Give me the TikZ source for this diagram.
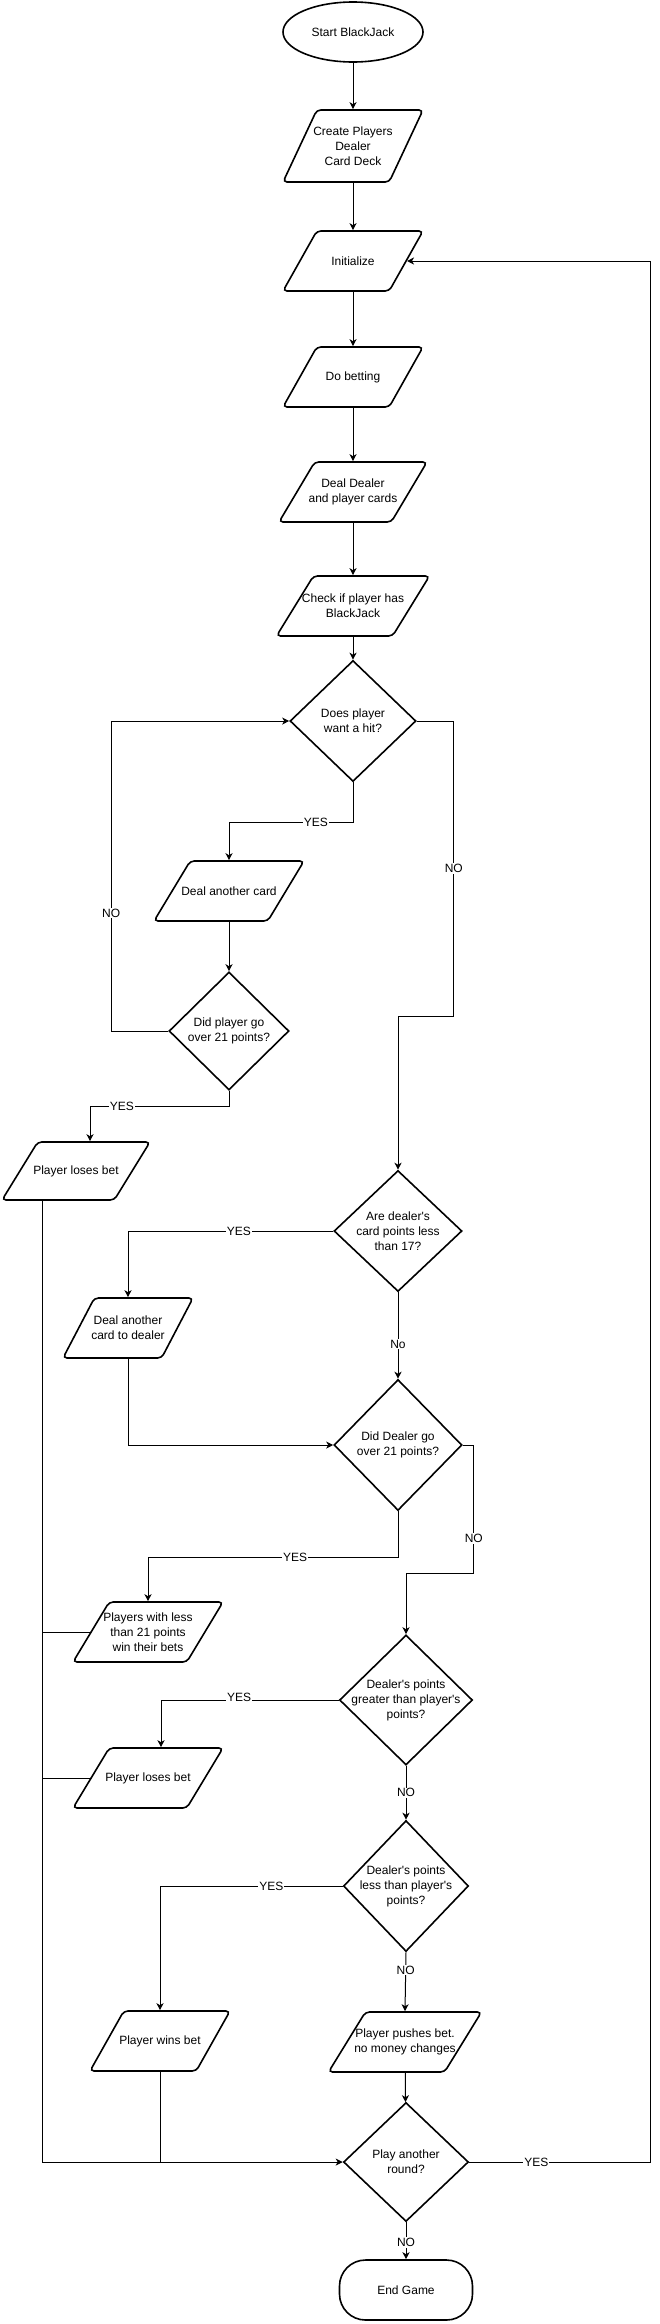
\documentclass[tikz,border=0pt]{standalone}
\usepackage{fontspec}
\setmainfont{Liberation Sans}
\usetikzlibrary{shapes.geometric,arrows.meta,calc}
\tikzset{
  shp/.style={draw, line width=1.6pt, inner sep=2pt},
  txt/.style={align=center, inner sep=0pt, font=\fontsize{12}{15}\selectfont},
  says/.style={label={[txt]center:#1}},
  para/.style={shp, trapezium, trapezium left angle=65, trapezium right angle=115,
    trapezium stretches=true, rounded corners=4pt, minimum height=60pt},
  dec/.style={shp, diamond},
  term/.style={shp, ellipse},
  line/.style={line width=1pt},
  arr/.style={line, -{Stealth[length=7pt,width=7pt,inset=2pt]}},
  lbl/.style={fill=white, inner sep=1pt, font=\fontsize{12}{15}\selectfont},
}
\begin{document}
\begin{tikzpicture}[x=1pt,y=-1pt]
				\useasboundingbox (0,0) rectangle (660,2324);
				\node[term, minimum width=140pt, minimum height=60pt, says={Start BlackJack}] (start) at (353,32) {};
				\node[para, minimum width=140pt, minimum height=72pt, says={Create Players\\Dealer\\Card Deck}] (create) at (353,146) {};
				\node[para, minimum width=140pt, says={Initialize}] (init) at (353,261) {};
				\node[para, minimum width=140pt, says={Do betting}] (bet) at (353,377) {};
				\node[para, minimum width=148pt, says={Deal Dealer\\and player cards}] (deal) at (353,492) {};
				\node[para, minimum width=153pt, says={Check if player has\\BlackJack}] (check) at (353,606) {};
				\node[dec, minimum width=126pt, minimum height=121pt, says={Does player\\want a hit?}] (hit) at (353,721) {};
				\node[para, minimum width=150pt, says={Deal another card}] (another) at (229,891) {};
				\node[dec, minimum width=120pt, minimum height=118pt, says={Did player go\\over 21 points?}] (pover) at (229,1031) {};
				\node[para, minimum width=148pt, minimum height=58pt, says={Player loses bet}] (lose1) at (76,1171) {};
				\node[dec, minimum width=128pt, minimum height=121pt, says={Are dealer\textquotesingle s\\card points less\\than 17?}] (less17) at (398,1231) {};
				\node[para, minimum width=130pt, says={Deal another\\card to dealer}] (dcard) at (128,1328) {};
				\node[dec, minimum width=128pt, minimum height=131pt, says={Did Dealer go\\over 21 points?}] (dover) at (398,1445) {};
				\node[para, minimum width=150pt, says={Players with less\\than 21 points\\win their bets}] (win21) at (148,1632) {};
				\node[dec, minimum width=133pt, minimum height=130pt, says={Dealer\textquotesingle s points\\greater than player\textquotesingle s\\points?}] (greater) at (406,1700) {};
				\node[para, minimum width=150pt, says={Player loses bet}] (lose2) at (148,1778) {};
				\node[dec, minimum width=125pt, minimum height=131pt, says={Dealer\textquotesingle s points\\less than player\textquotesingle s\\points?}] (lesser) at (406,1886) {};
				\node[para, minimum width=140pt, says={Player wins bet}] (winbet) at (160,2041) {};
				\node[para, minimum width=153pt, says={Player pushes bet.\\no money changes}] (push) at (405,2042) {};
				\node[dec, minimum width=125pt, minimum height=119pt, says={Play another\\round?}] (again) at (406,2162) {};
				\node[shp, rectangle, rounded corners=26pt, minimum width=133pt, minimum height=60pt, says={End Game}] (endg) at (406,2290) {};
				\coordinate (rail) at ($(lose1.south)+(-34,0)$);
				\draw[arr] (start) -- (create);
				\draw[arr] (create) -- (init);
				\draw[arr] (init) -- (bet);
				\draw[arr] (bet) -- (deal);
				\draw[arr] (deal) -- (check);
				\draw[arr] (check) -- (hit);
				\draw[arr] (hit.south) -- ++(0,40) -| node[lbl, pos=0.15] (yes1) {YES} (another.north);
				\draw[arr] (another) -- (pover);
				\draw[arr] (pover.west) -- ++(-57,0) |- node[lbl, pos=0.19] (no1) {NO} (hit.west);
				\draw[arr] (hit.east) -- ++(37,0) -- node[lbl] (no2) {NO} ++(0,295) -| (less17.north);
				\draw[arr] (pover.south) -- ++(0,16) -| node[lbl, pos=0.385] (yes2) {YES} ($(lose1.north)+(14,0)$);
				\draw[arr] (less17.west) -| node[lbl, pos=0.23] (yes3) {YES} (dcard.north);
				\draw[arr] (less17.south) -- node[lbl, pos=0.6] (no3) {No} (dover.north);
				\draw[arr] (dcard.south) |- (dover.west);
				\draw[arr] (dover.south) -- ++(0,46) -| node[lbl, pos=0.206] (yes4) {YES} (win21.north);
				\draw[arr] (dover.east) -- ++(11,0) -- node[lbl, pos=0.73] (no4) {NO} ++(0,128) -| (greater.north);
				\draw[arr] (greater.west) -| node[lbl, pos=0.28, yshift=3pt] (yes5) {YES} ($(lose2.north)+(13,0)$);
				\draw[arr] (greater.south) -- node[lbl] (no5) {NO} (lesser.north);
				\draw[arr] (lesser.west) -| node[lbl, pos=0.195] (yes6) {YES} (winbet.north);
				\draw[arr] (lesser.south) -- node[lbl, pos=0.3] (no6) {NO} (push.north);
				\draw[arr] (push) -- (again);
				\draw[arr] (again.south) -- node[lbl, pos=0.55] (no7) {NO} (endg.north);
				\draw[arr] (again.east) -- node[lbl, pos=0.37] (yes7) {YES} ++(181,0) |- (init.east);
				\draw[arr] (rail) |- (again.west);
				\draw[line] (win21.west) -- (win21.west -| rail);
				\draw[line] (lose2.west) -- (lose2.west -| rail);
				\draw[line] (winbet.south) -- (winbet.south |- again.west);
			\end{tikzpicture}
\end{document}
